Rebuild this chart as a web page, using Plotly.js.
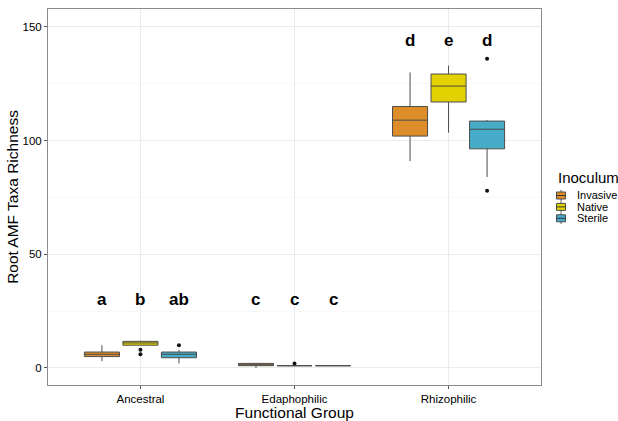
<!DOCTYPE html>
<html>
<head>
<meta charset="utf-8">
<script src="https://cdn.plot.ly/plotly-3.0.1.min.js"></script>
<style>html,body{margin:0;padding:0;background:#fff;}#chart{width:618px;height:421px;}</style>
</head>
<body>
<div id="chart"></div>
<script>
// ---- data ----
const groups = ['Ancestral', 'Edaphophilic', 'Rhizophilic'];
const inocula = ['Invasive', 'Native', 'Sterile'];
const colors = ['#DD8D29', '#E2D200', '#46ACC8'];

// box statistics per inoculum, in group order
const invasiveLower = [3, 0, 91];
const invasiveQ1 = [5, 1, 102];
const invasiveMedian = [6, 1, 109];
const invasiveQ3 = [7, 2, 115];
const invasiveUpper = [10, 2, 130];

const nativeLower = [10, 1, 103.5];
const nativeQ1 = [10, 1, 117];
const nativeMedian = [11, 1, 124];
const nativeQ3 = [11.7, 1, 129.3];
const nativeUpper = [12, 1, 133];

const sterileLower = [2, 1, 84];
const sterileQ1 = [4.5, 1, 96.4];
const sterileMedian = [6, 1, 105];
const sterileQ3 = [7, 1, 108.6];
const sterileUpper = [8, 1, 109];

// outliers: group index (0-based) and value
const invasiveOutGroup = [];
const invasiveOutValue = [];
const nativeOutGroup = [0, 0, 1];
const nativeOutValue = [8, 6, 2];
const sterileOutGroup = [0, 2, 2];
const sterileOutValue = [10, 136, 78];

// significance letters
const invasiveLetters = ['a', 'c', 'd'];
const nativeLetters = ['b', 'c', 'e'];
const sterileLetters = ['ab', 'c', 'd'];
const letterY = [30, 30, 144];

// ---- build ----
const FONT = 'Liberation Sans, Arial, sans-serif';
const boxgap = 0.25, boxgroupgap = 0.09;
const step = (1 - boxgap) / inocula.length;
const pos = groups.map((g, i) => i + 1);

const stats = [
  [invasiveLower, invasiveQ1, invasiveMedian, invasiveQ3, invasiveUpper],
  [nativeLower, nativeQ1, nativeMedian, nativeQ3, nativeUpper],
  [sterileLower, sterileQ1, sterileMedian, sterileQ3, sterileUpper]
];
const outs = [[invasiveOutGroup, invasiveOutValue], [nativeOutGroup, nativeOutValue], [sterileOutGroup, sterileOutValue]];
const letters = [invasiveLetters, nativeLetters, sterileLetters];

const traces = [];
inocula.forEach((name, k) => {
  const s = stats[k];
  traces.push({
    type: 'box', name: name, x: pos,
    lowerfence: s[0], q1: s[1], median: s[2], q3: s[3], upperfence: s[4],
    boxpoints: false,
    fillcolor: colors[k],
    line: {color: '#4d4d4d', width: 1},
    whiskerwidth: 0,
    showlegend: false, hoverinfo: 'skip'
  });
});
inocula.forEach((name, k) => {
  const off = (k - (inocula.length - 1) / 2) * step;
  traces.push({
    type: 'scatter', mode: 'markers', name: name + ' outliers',
    x: outs[k][0].map(g => pos[g] + off), y: outs[k][1],
    marker: {color: '#111', size: 4},
    showlegend: false, hoverinfo: 'skip'
  });
});

const annotations = [];
inocula.forEach((name, k) => {
  const off = (k - (inocula.length - 1) / 2) * step;
  letters[k].forEach((t, g) => {
    annotations.push({
      x: pos[g] + off, y: letterY[g], xref: 'x', yref: 'y', text: '<b>' + t + '</b>', showarrow: false,
      font: {family: FONT, size: 17, color: '#000'}
    });
  });
});

// custom legend (pixel helpers)
const W = 618, H = 421, mL = 48, mR = 77, mT = 9, mB = 36;
const pw = W - mL - mR, ph = H - mT - mB;
const px = v => (v - mL) / pw;
const py = v => (H - mB - v) / ph;
const shapes = [];
annotations.push({
  x: px(556), y: py(177), xref: 'paper', yref: 'paper', xanchor: 'left', yanchor: 'middle',
  text: 'Inoculum', showarrow: false,
  font: {family: FONT, size: 15, color: '#000'}
});
inocula.forEach((name, k) => {
  const cy = 195.5 + k * 11.4;
  shapes.push({type: 'line', xref: 'paper', yref: 'paper', x0: px(561), x1: px(561), y0: py(cy - 5.5), y1: py(cy + 5.5), line: {color: '#4d4d4d', width: 1}});
  shapes.push({type: 'rect', xref: 'paper', yref: 'paper', x0: px(556.5), x1: px(565.5), y0: py(cy - 3.5), y1: py(cy + 3.5), fillcolor: colors[k], line: {color: '#4d4d4d', width: 1}});
  shapes.push({type: 'line', xref: 'paper', yref: 'paper', x0: px(556.5), x1: px(565.5), y0: py(cy), y1: py(cy), line: {color: '#333', width: 1}});
  annotations.push({
    x: px(575), y: py(cy), xref: 'paper', yref: 'paper', xanchor: 'left', yanchor: 'middle',
    text: name, showarrow: false,
    font: {family: FONT, size: 11, color: '#000'}
  });
});

const layout = {
  width: W, height: H,
  margin: {l: mL, r: mR, t: mT, b: mB, pad: 0},
  paper_bgcolor: '#fff', plot_bgcolor: '#fff',
  showlegend: false,
  boxmode: 'group', boxgap: boxgap, boxgroupgap: boxgroupgap,
  font: {family: FONT, color: '#000'},
  xaxis: {
    range: [0.4, 3.6], tickvals: pos, ticktext: groups,
    showgrid: true, gridcolor: '#EBEBEB', gridwidth: 1, zeroline: false,
    showline: true, mirror: true, linecolor: '#8c8c8c', linewidth: 1,
    ticks: 'outside', ticklen: 3, tickcolor: '#555',
    tickfont: {size: 11.5, color: '#000'},
    title: {text: 'Functional Group', font: {size: 15.5, color: '#000'}, standoff: 0}
  },
  yaxis: {
    range: [-7.5, 157.9], tickvals: [0, 50, 100, 150],
    showgrid: true, gridcolor: '#EBEBEB', gridwidth: 1, zeroline: false,
    minor: {tickvals: [25, 75, 125], showgrid: true, gridcolor: '#F3F3F3', gridwidth: 0.6, ticks: ''},
    showline: true, mirror: true, linecolor: '#8c8c8c', linewidth: 1,
    ticks: 'outside', ticklen: 3, tickcolor: '#555',
    tickfont: {size: 11.5, color: '#000'},
    title: {text: 'Root AMF Taxa Richness', font: {size: 15.5, color: '#000'}, standoff: 0}
  },
  annotations: annotations,
  shapes: shapes
};

Plotly.newPlot('chart', traces, layout, {staticPlot: true, displayModeBar: false});
</script>
</body>
</html>
